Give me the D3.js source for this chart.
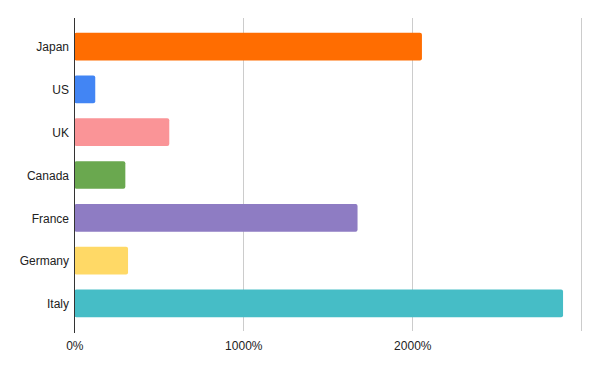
<!DOCTYPE html>
<html><head><meta charset="utf-8">
<script src="https://cdn.jsdelivr.net/npm/d3@7"></script>
<style>body{margin:0;background:#fff}</style>
</head><body>
<svg id="c" width="600" height="371"></svg>
<script>
const categories = ["Japan","US","UK","Canada","France","Germany","Italy"];
const values = [2057,124,562,302,1676,318,2892];
const colors = ["#ff6d01","#4285f4","#fa9497","#6aa84f","#8e7cc3","#ffd966","#46bdc6"];
const tickValues = [0,1000,2000,3000];
const tickLabels = ["0%","1000%","2000%",""];

const svg = d3.select("#c");
const x = d3.scaleLinear().domain([0,3000]).range([74.3,581.3]);
const y = d3.scaleBand().domain(categories).range([18,332]).paddingInner(0.353).paddingOuter(0.345);
const font = "Arial, 'Liberation Sans', sans-serif";

// gridlines
svg.append("g").selectAll("line").data(tickValues.slice(1)).join("line")
  .attr("x1",d=>Math.round(x(d))+0.5).attr("x2",d=>Math.round(x(d))+0.5)
  .attr("y1",18).attr("y2",331)
  .attr("stroke","#cccccc").attr("stroke-width",1);

// bars
svg.append("g").selectAll("rect").data(categories).join("rect")
  .attr("x",x(0)).attr("y",d=>y(d))
  .attr("width",(d,i)=>x(values[i])-x(0))
  .attr("height",y.bandwidth())
  .attr("rx",2).attr("ry",2)
  .attr("fill",(d,i)=>colors[i]);

// zero axis line
svg.append("line").attr("x1",74.5).attr("x2",74.5).attr("y1",18).attr("y2",333)
  .attr("stroke","#333").attr("stroke-width",1);

// x axis labels
const xa = d3.axisBottom(x).tickValues(tickValues).tickSize(0).tickFormat((d,i)=>tickLabels[i]);
const gx = svg.append("g").attr("transform","translate(0,333)").call(xa);
gx.select(".domain").remove();
gx.selectAll("text").attr("dy",0).attr("y",17).style("font-family",font).style("font-size","12px").attr("fill","#222");

// y axis labels
const ya = d3.axisLeft(y).tickSize(0).tickPadding(0);
const gy = svg.append("g").attr("transform","translate(69,1)").call(ya);
gy.select(".domain").remove();
gy.selectAll("text").style("font-family",font).style("font-size","12px").attr("fill","#222");
</script>
</body></html>
